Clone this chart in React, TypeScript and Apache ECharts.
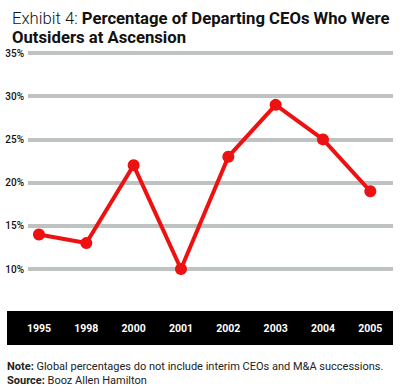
import React, { useEffect, useRef } from "react";
import * as echarts from "echarts";

const years = ["1995", "1998", "2000", "2001", "2002", "2003", "2004", "2005"];
const outsiderPct = [14, 13, 22, 10, 23, 29, 25, 19];
const yMin = 10;
const yMax = 35;
const yStep = 5;

export default function App() {
  const ref = useRef<HTMLDivElement>(null);
  useEffect(() => {
    if (!ref.current) return;
    const chart = echarts.init(ref.current, null, { renderer: "svg" });
    const font = "Roboto, 'DejaVu Sans', sans-serif";
    chart.setOption({
      animation: false,
      backgroundColor: "#ffffff",
      textStyle: { fontFamily: font },
      title: {
        left: 7,
        top: 4,
        text: "{n|Exhibit 4: }{b|Percentage of Departing CEOs Who Were}\n{b|Outsiders at Ascension}",
        textStyle: {
          rich: {
            n: { fontSize: 16.7, fontWeight: 300, color: "#111", fontFamily: font, lineHeight: 19 },
            b: { fontSize: 16.7, fontWeight: "bold", color: "#111", fontFamily: font, lineHeight: 19 },
          },
        },
      },
      graphic: [
        { type: "rect", shape: { x: 7, y: 311, width: 386, height: 34 }, style: { fill: "#000" }, z: 0 },
        {
          type: "text",
          left: 7,
          top: 359,
          style: {
            text: "{b|Note:} Global percentages do not include interim CEOs and M&A successions.\n{b|Source:} Booz Allen Hamilton",
            fontSize: 11,
            fontFamily: font,
            fill: "#222",
            lineHeight: 14,
            rich: {
              b: { fontWeight: "bold", fontSize: 11, fontFamily: font, fill: "#222", lineHeight: 14 },
            },
          },
        },
      ],
      grid: [
        { left: 28, right: 7, top: 53, bottom: 119, containLabel: false },
        { left: 15.3, right: 6, top: 53, bottom: 119, containLabel: false },
      ],
      xAxis: [
        { type: "category", gridIndex: 0, data: years, show: false },
        {
          type: "category",
          gridIndex: 1,
          data: years,
          boundaryGap: true,
          axisLine: { show: false },
          axisTick: { show: false },
          axisLabel: { color: "#fff", fontWeight: "bold", fontSize: 10.5, margin: 54, fontFamily: font },
          z: 5,
        },
      ],
      yAxis: [
        {
          type: "value",
          gridIndex: 0,
          min: yMin,
          max: yMax,
          interval: yStep,
          axisLine: { show: false },
          axisTick: { show: false },
          axisLabel: { formatter: "{value}%", color: "#111", fontSize: 10, fontWeight: 500, margin: 4, fontFamily: font },
          splitLine: { lineStyle: { color: "#bfc2c2", width: 4 } },
        },
        {
          type: "value",
          gridIndex: 1,
          min: yMin,
          max: yMax,
          interval: yStep,
          show: false,
          splitLine: { show: false },
        },
      ],
      series: [
        {
          type: "line",
          xAxisIndex: 1,
          yAxisIndex: 1,
          data: outsiderPct,
          symbol: "circle",
          symbolSize: 12,
          lineStyle: { color: "#ee1111", width: 4 },
          itemStyle: { color: "#ee1111" },
          z: 10,
        },
      ],
    });
    return () => chart.dispose();
  }, []);
  return <div ref={ref} style={{ position: "fixed", left: 0, top: 0, width: 400, height: 388 }} />;
}
